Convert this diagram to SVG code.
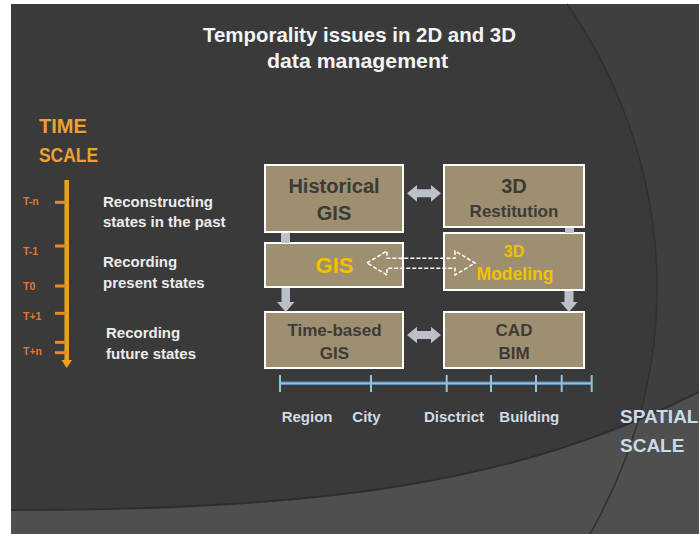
<svg xmlns="http://www.w3.org/2000/svg" width="699" height="534" viewBox="0 0 699 534">
<style>
  text { font-family: "Liberation Sans", Arial, sans-serif; font-weight: bold; }
  .title { fill: #f4f4f4; font-size: 21px; }
  .orange { fill: #f0a030; font-size: 20px; }
  .tl { fill: #e8742a; font-size: 10.5px; }
  .desc { fill: #ececec; font-size: 15px; }
  .box { fill: #9d8f70; stroke: #ffffff; stroke-width: 2; }
  .bt { fill: #3c3b38; text-anchor: middle; }
  .yt { fill: #f5c000; text-anchor: middle; }
  .conn { fill: #bcc0cb; }
  .scl { fill: #cfdbe6; font-size: 15px; }
  .sp { fill: #c9dbe7; font-size: 19px; }
  .tick { stroke: #8fc3de; stroke-width: 2; }
</style>
<rect x="0" y="0" width="699" height="534" fill="#ffffff"/>
<rect x="11" y="4" width="688" height="530" fill="#3a3a3a"/>
<path d="M567 4 C655 130, 705 330, 590 534 L699 534 L699 4 Z" fill="#3f3f3f"/>
<path d="M11 510 C330 510, 520 482, 699 392 L699 534 L11 534 Z" fill="#4f4f4f"/>
<path d="M11 510 C330 510, 520 482, 699 392" fill="none" stroke="#2e2e2e" stroke-width="2"/>
<path d="M567 4 C655 130, 705 330, 590 534" fill="none" stroke="#303030" stroke-width="1.5"/>

<g id="title">
  <text class="title" x="359.5" y="42" text-anchor="middle" textLength="313" lengthAdjust="spacingAndGlyphs">Temporality issues in 2D and 3D</text>
  <text class="title" x="357.5" y="68" text-anchor="middle" textLength="181" lengthAdjust="spacingAndGlyphs">data management</text>
</g>

<g id="time-scale">
  <text class="orange" x="39" y="133">TIME</text>
  <text class="orange" x="39" y="162" textLength="59" lengthAdjust="spacingAndGlyphs">SCALE</text>
  <line x1="66.7" y1="180" x2="66.7" y2="361" stroke="#f0a020" stroke-width="4.5"/>
  <polygon points="61.5,360 72,360 66.7,368" fill="#f0a020"/>
  <g stroke="#f08a20" stroke-width="3">
    <line x1="55" y1="202.3" x2="67" y2="202.3"/>
    <line x1="55" y1="246" x2="67" y2="246"/>
    <line x1="55" y1="286" x2="67" y2="286"/>
    <line x1="55" y1="313.3" x2="67" y2="313.3"/>
    <line x1="55" y1="342.3" x2="67" y2="342.3"/>
    <line x1="55" y1="352.7" x2="67" y2="352.7"/>
  </g>
  <text class="tl" x="23" y="205">T-n</text>
  <text class="tl" x="23" y="255">T-1</text>
  <text class="tl" x="23" y="290">T0</text>
  <text class="tl" x="23" y="320">T+1</text>
  <text class="tl" x="23" y="355">T+n</text>
  <text class="desc" x="103" y="206.5">Reconstructing</text>
  <text class="desc" x="103" y="226.5">states in the past</text>
  <text class="desc" x="103" y="267">Recording</text>
  <text class="desc" x="103" y="288">present states</text>
  <text class="desc" x="106" y="338">Recording</text>
  <text class="desc" x="106" y="358.5">future states</text>
</g>

<g id="historical-gis">
  <rect class="box" x="265" y="165" width="138" height="67"/>
  <text class="bt" x="334" y="193.3" font-size="20">Historical</text>
  <text class="bt" x="334" y="220" font-size="20">GIS</text>
</g>
<g id="restitution-3d">
  <rect class="box" x="444" y="165" width="140" height="62"/>
  <text class="bt" x="514" y="193" font-size="20">3D</text>
  <text class="bt" x="514" y="216.7" font-size="17">Restitution</text>
</g>
<g id="gis">
  <rect class="box" x="265" y="243" width="138" height="44"/>
  <text class="yt" x="334.5" y="273" font-size="22">GIS</text>
</g>
<g id="modeling-3d">
  <rect class="box" x="444" y="233" width="140" height="57"/>
  <text class="yt" x="514" y="256.7" font-size="16">3D</text>
  <text class="yt" x="515" y="280" font-size="17.5">Modeling</text>
</g>
<g id="time-based-gis">
  <rect class="box" x="265" y="312" width="138" height="56"/>
  <text class="bt" x="334.5" y="335.7" font-size="17">Time-based</text>
  <text class="bt" x="334.5" y="359" font-size="17">GIS</text>
</g>
<g id="cad-bim">
  <rect class="box" x="444" y="312" width="140" height="56"/>
  <text class="bt" x="514" y="335.7" font-size="17">CAD</text>
  <text class="bt" x="514" y="359" font-size="17">BIM</text>
</g>

<g id="connectors">
  <path class="conn" d="M407 193.3 L417 185 L417 189.3 L431 189.3 L431 185 L441 193.3 L431 201.7 L431 197.3 L417 197.3 L417 201.7 Z"/>
  <path class="conn" d="M407 335 L417 326.7 L417 331 L431 331 L431 326.7 L441 335 L431 343.3 L431 339 L417 339 L417 343.3 Z"/>
  <rect class="conn" x="281" y="233" width="9" height="10"/>
  <path class="conn" d="M281.5 288 L290 288 L290 302 L294.5 302 L285.75 312 L277 302 L281.5 302 Z"/>
  <rect class="conn" x="565" y="228" width="9" height="5"/>
  <path class="conn" d="M564.5 291 L573.5 291 L573.5 302 L577.5 302 L569 312 L560.5 302 L564.5 302 Z"/>
  <path d="M367 263 L387 251 L387 258.3 L455 258.3 L455 251 L475 263 L455 275 L455 268.3 L387 268.3 L387 275 Z" fill="none" stroke="#ffffff" stroke-width="1.5" stroke-dasharray="4 2"/>
</g>

<g id="spatial-scale">
  <line x1="280" y1="383.3" x2="592" y2="383.3" stroke="#5a8fc2" stroke-width="3.5"/>
  <line x1="280" y1="383.3" x2="592" y2="383.3" stroke="#a9cde6" stroke-width="1"/>
  <line class="tick" x1="280" y1="375" x2="280" y2="392"/>
  <line class="tick" x1="371" y1="375" x2="371" y2="392"/>
  <line class="tick" x1="446.7" y1="375" x2="446.7" y2="392"/>
  <line class="tick" x1="491" y1="375" x2="491" y2="392"/>
  <line class="tick" x1="536" y1="375" x2="536" y2="392"/>
  <line class="tick" x1="561.7" y1="375" x2="561.7" y2="392"/>
  <line class="tick" x1="591.7" y1="375" x2="591.7" y2="392"/>
  <text class="scl" x="281.7" y="421.7">Region</text>
  <text class="scl" x="352.3" y="421.7">City</text>
  <text class="scl" x="424" y="421.7">Disctrict</text>
  <text class="scl" x="499.3" y="421.7">Building</text>
  <text class="sp" x="620" y="423.3">SPATIAL</text>
  <text class="sp" x="620" y="451.7">SCALE</text>
</g>
</svg>
